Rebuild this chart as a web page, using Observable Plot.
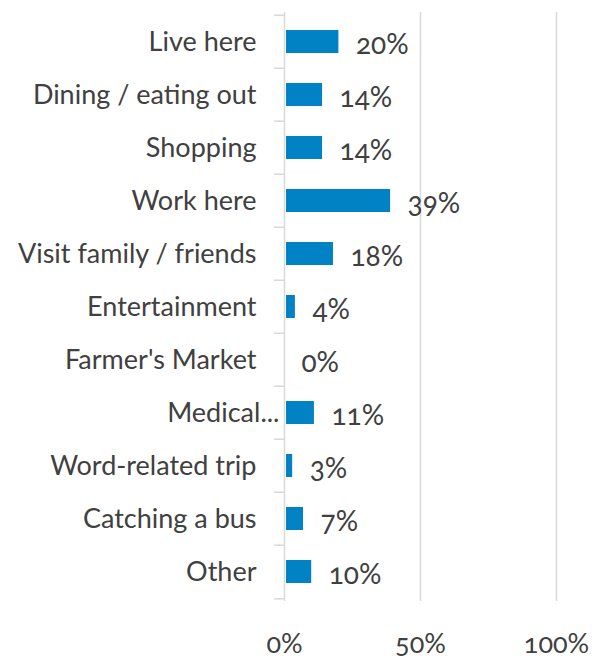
<!DOCTYPE html>
<html>
<head>
<meta charset="utf-8">
<script src="https://cdn.jsdelivr.net/npm/d3@7"></script>
<script src="https://cdn.jsdelivr.net/npm/@observablehq/plot@0.6"></script>
<style>
  html, body { margin: 0; padding: 0; background: #fff; }
  svg text { font-variant-numeric: oldstyle-nums; font-feature-settings: "onum" 1; }
</style>
</head>
<body>
<div id="chart"></div>
<script>
const categories = [
  "Live here", "Dining / eating out", "Shopping", "Work here",
  "Visit family / friends", "Entertainment", "Farmer's Market",
  "Medical...", "Word-related trip", "Catching a bus", "Other"
];
const values = [20, 14, 14, 39, 18, 4, 0, 11, 3, 7, 10];
const xTicks = [0, 50, 100];
const truncatedLabel = "Medical...";

const data = categories.map((c, i) => ({category: c, value: values[i]}));

const W = 596, H = 658;
const mTop = 12, mBottom = 57, mLeft = 284, mRight = 40;
const step = (H - mTop - mBottom) / categories.length;
const grid = "#d9d9d9";
const ink = "#404040";

const chart = Plot.plot({
  width: W, height: H,
  marginTop: mTop, marginBottom: mBottom, marginLeft: mLeft, marginRight: mRight,
  style: {fontFamily: "Lato, 'Open Sans', sans-serif", color: ink, background: "#fff", overflow: "visible"},
  x: {domain: [0, 100], label: null},
  y: {domain: categories, paddingInner: 0.57, paddingOuter: 0.285, label: null},
  marks: [
    Plot.ruleX(xTicks.filter(t => t > 0), {stroke: grid, strokeWidth: 1.5}),
    Plot.ruleX([0], {stroke: grid, strokeWidth: 1.5}),
    Plot.axisY({tickSize: 10, tickFormat: () => "", dy: -step / 2, stroke: grid, strokeWidth: 1.5, label: null}),
    Plot.axisY({ticks: [categories[categories.length - 1]], tickSize: 10, tickFormat: () => "", dy: step / 2, stroke: grid, strokeWidth: 1.5, label: null}),
    Plot.barX(data, {x: "value", y: "category", fill: "#0082c4", insetLeft: 2}),
    Plot.text(data, {x: "value", y: "category", text: d => d.value + "%", textAnchor: "start", dx: 17, dy: 3, fontSize: 28, fill: ink}),
    Plot.axisX({ticks: xTicks, tickFormat: d => d + "%", tickSize: 0, tickPadding: 32, fontSize: 27, fill: ink, label: null}),
    Plot.axisY({ticks: categories.filter(c => c !== truncatedLabel), tickSize: 0, tickPadding: 28, fontSize: 27, fill: ink, label: null}),
    Plot.axisY({ticks: [truncatedLabel], tickSize: 0, tickPadding: 5, fontSize: 27, fill: ink, label: null})
  ]
});
document.getElementById("chart").appendChild(chart);
</script>
</body>
</html>
